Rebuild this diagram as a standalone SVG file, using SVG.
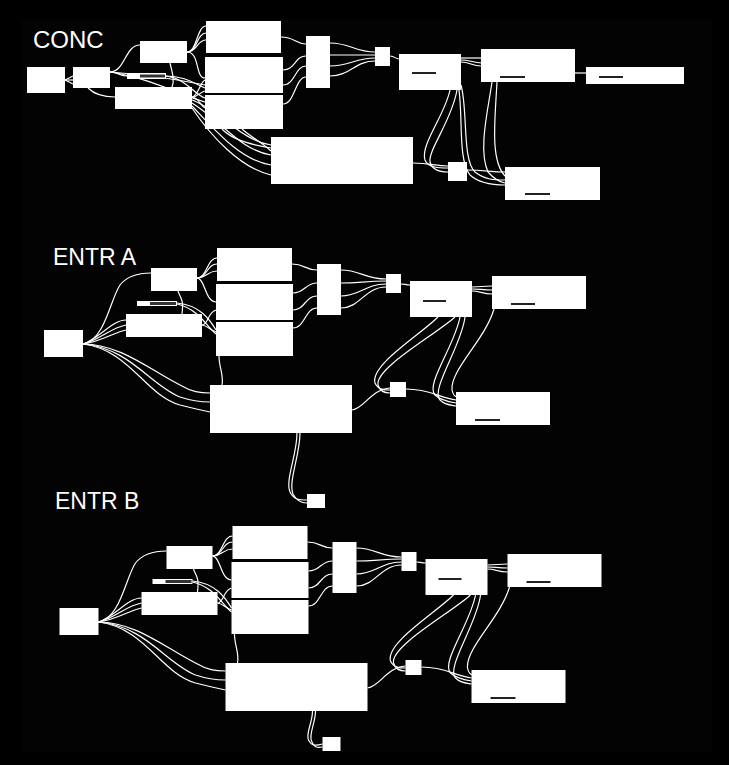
<svg xmlns="http://www.w3.org/2000/svg" width="729" height="765" viewBox="0 0 729 765">
<defs>
<style>
.bg{fill:#000}
.panel{fill:#030303}
.n{fill:#fff}
.mark{fill:#222}
.bar{fill:#fff}
.barin{fill:#333}
.c path{fill:none;stroke:#fff;stroke-width:1.2}
.t{font-family:"Liberation Sans",Arial,sans-serif;fill:#fff;font-weight:300}
</style>
</defs>
<rect class="bg" x="0" y="0" width="729" height="765"/>
<rect class="panel" x="22" y="20" width="690" height="732"/>

<text class="t" x="33" y="48" font-size="24">CONC</text>
<text class="t" x="53" y="265" font-size="23">ENTR A</text>
<text class="t" x="55" y="509" font-size="23">ENTR B</text>

<!-- CONC connectors -->
<g id="conc-connectors" class="c">
<path d="M65,80 L73,76"/><path d="M65,80 L73,84"/><path d="M65,80 L73,80"/>
<path d="M110,72 C125,72 125,45 140,45"/>
<path d="M110,72 C118,72 120,76 127,76"/>
<path d="M110,72 C150,75 180,80 205,85"/>
<path d="M110,72 C150,78 180,95 205,102"/>
<path d="M88,88 C95,95 105,97 115,97"/>
<path d="M187,52 C197,52 197,26 206,26"/>
<path d="M187,52 C197,52 197,33 206,33"/>
<path d="M187,52 C197,52 197,40 206,40"/>
<path d="M187,52 C200,52 195,78 205,78"/>
<path d="M170,63 C172,72 175,80 172,87"/>
<path d="M166,76 C185,76 195,84 205,88"/>
<path d="M166,76 C185,78 195,95 205,98"/>
<path d="M192,97 C198,97 200,82 205,80"/>
<path d="M192,97 C198,97 200,92 205,91"/>
<path d="M192,97 C198,97 200,105 205,108"/>
<path d="M192,100 C220,110 240,140 271,145"/>
<path d="M192,103 C220,120 240,150 271,155"/>
<path d="M192,106 C215,130 240,160 271,165"/>
<path d="M192,108 C210,135 240,168 271,175"/>
<path d="M222,129 C232,140 252,145 271,148"/>
<path d="M242,129 C252,138 262,142 271,151"/>
<path d="M281,37 C295,37 295,44 306,44"/>
<path d="M283,70 C295,70 295,56 306,56"/>
<path d="M283,85 C295,85 295,66 306,66"/>
<path d="M283,104 C295,104 295,77 306,77"/>
<path d="M330,43 C350,43 355,52 375,52"/>
<path d="M330,55 C350,55 355,55 375,55"/>
<path d="M330,66 C350,66 355,58 375,58"/>
<path d="M330,76 C350,76 355,61 375,61"/>
<path d="M390,56 C395,56 395,59 399,59"/>
<path d="M461,58 C470,58 472,58 481,58"/>
<path d="M461,60 C470,60 470,62 481,63"/>
<path d="M461,62 C470,62 472,66 481,66"/>
<path d="M575,73 L586,73"/>
<path d="M450,90 C445,115 420,145 425,160 C428,168 440,168 448,168"/>
<path d="M457,90 C452,120 428,150 430,162 C432,170 440,172 448,172"/>
<path d="M413,163 C430,163 435,166 448,166"/>
<path d="M461,85 C468,110 462,160 475,172 C485,180 495,180 505,180"/>
<path d="M459,90 C463,120 458,160 470,175 C480,184 495,185 505,185"/>
<path d="M492,82 C488,110 478,150 488,172 C495,180 500,182 505,183"/>
<path d="M497,82 C495,120 490,160 505,176"/>
<path d="M467,170 C485,170 490,172 505,172"/>
</g>

<!-- CONC nodes -->
<g id="conc-a"><rect class="n" x="27" y="67" width="38" height="26"/></g>
<g id="conc-b"><rect class="n" x="73" y="67" width="37" height="21"/></g>
<g id="conc-c"><rect class="n" x="140" y="41" width="47" height="22"/></g>
<g id="conc-slim"><rect class="bar" x="127" y="73" width="39" height="6"/><rect class="barin" x="140" y="74.5" width="25" height="3"/></g>
<g id="conc-d"><rect class="n" x="115" y="87" width="77" height="22"/></g>
<g id="conc-e1"><rect class="n" x="206" y="21" width="75" height="32"/></g>
<g id="conc-e2"><rect class="n" x="205" y="57" width="78" height="36"/></g>
<g id="conc-e3"><rect class="n" x="205" y="95" width="78" height="34"/></g>
<g id="conc-f"><rect class="n" x="271" y="137" width="142" height="47"/></g>
<g id="conc-g"><rect class="n" x="306" y="36" width="24" height="52"/></g>
<g id="conc-h"><rect class="n" x="375" y="47" width="15" height="19"/></g>
<g id="conc-i"><rect class="n" x="399" y="54" width="62" height="36"/><rect class="mark" x="412" y="72" width="24" height="2"/></g>
<g id="conc-j"><rect class="n" x="481" y="49" width="94" height="33"/><rect class="mark" x="500" y="76" width="25" height="2"/></g>
<g id="conc-k"><rect class="n" x="586" y="67" width="98" height="17"/><rect class="mark" x="599" y="76" width="24" height="2"/></g>
<g id="conc-l"><rect class="n" x="448" y="162" width="19" height="19"/></g>
<g id="conc-m"><rect class="n" x="505" y="167" width="95" height="33"/><rect class="mark" x="525" y="193" width="25" height="2"/></g>

<!-- ENTR A connectors -->
<g id="entra-connectors" class="c">
<path d="M83,344 C105,340 110,300 120,285 C128,275 140,273 151,273"/>
<path d="M83,344 C100,340 110,328 126,325"/>
<path d="M83,344 C100,338 112,320 126,320"/>
<path d="M83,344 C100,342 115,332 126,330"/>
<path d="M83,344 C120,344 150,370 180,385 C192,392 200,393 210,393"/>
<path d="M83,344 C130,348 150,385 180,397 C192,401 200,402 210,402"/>
<path d="M83,344 C130,350 145,395 180,405 C192,408 200,410 210,412"/>
<path d="M178,291 C180,298 184,298 182,314"/>
<path d="M177,303 C200,305 210,320 216,330"/>
<path d="M177,304 C200,310 205,325 216,334"/>
<path d="M197,278 C207,278 207,258 217,258"/>
<path d="M197,278 C207,278 207,264 217,264"/>
<path d="M197,278 C207,278 207,271 217,271"/>
<path d="M197,278 C205,278 205,302 216,302"/>
<path d="M202,325 C208,325 208,312 216,310"/>
<path d="M202,325 C208,326 210,330 216,332"/>
<path d="M219,356 C219,368 224,375 222,385"/>
<path d="M292,264 C305,264 305,270 317,270"/>
<path d="M293,293 C305,293 305,283 317,283"/>
<path d="M293,310 C305,310 305,296 317,296"/>
<path d="M293,328 C305,328 305,308 317,308"/>
<path d="M341,270 C360,270 365,279 386,279"/>
<path d="M341,283 C360,283 365,281 386,281"/>
<path d="M341,296 C360,296 365,284 386,284"/>
<path d="M341,308 C360,308 365,287 386,287"/>
<path d="M401,284 C405,284 405,285 410,285"/>
<path d="M472,287 L492,286"/>
<path d="M472,289 C480,289 482,290 492,290"/>
<path d="M472,291 C480,291 482,294 492,294"/>
<path d="M438,317 C420,335 370,365 375,383 C378,390 385,390 390,390"/>
<path d="M455,317 C435,335 375,368 378,385 C380,392 385,393 390,393"/>
<path d="M352,410 C365,408 370,390 390,388"/>
<path d="M406,389 C430,389 440,398 456,400"/>
<path d="M460,317 C455,345 425,385 435,395 C440,400 450,402 456,403"/>
<path d="M465,317 C462,345 430,390 440,400 C445,405 450,405 456,406"/>
<path d="M494,309 C485,340 450,370 452,390 C453,395 455,397 458,397"/>
<path d="M297,433 C297,455 285,480 290,492 C294,500 300,500 307,500"/>
<path d="M300,433 C300,455 288,482 293,494 C297,502 302,503 307,503"/>
</g>

<!-- ENTR A nodes -->
<g id="entra-a"><rect class="n" x="44" y="330" width="39" height="27"/></g>
<g id="entra-c"><rect class="n" x="151" y="268" width="46" height="23"/></g>
<g id="entra-slim"><rect class="bar" x="137" y="301" width="40" height="5"/><rect class="barin" x="150" y="302" width="26" height="3"/></g>
<g id="entra-d"><rect class="n" x="126" y="314" width="76" height="23"/></g>
<g id="entra-e1"><rect class="n" x="217" y="248" width="75" height="33"/></g>
<g id="entra-e2"><rect class="n" x="216" y="284" width="77" height="36"/></g>
<g id="entra-e3"><rect class="n" x="216" y="322" width="77" height="34"/></g>
<g id="entra-g"><rect class="n" x="317" y="264" width="24" height="51"/></g>
<g id="entra-f"><rect class="n" x="210" y="385" width="142" height="48"/></g>
<g id="entra-n"><rect class="n" x="307" y="494" width="18" height="14"/></g>
<g id="entra-h"><rect class="n" x="386" y="274" width="15" height="19"/></g>
<g id="entra-i"><rect class="n" x="410" y="281" width="62" height="36"/><rect class="mark" x="423" y="300" width="23" height="2"/></g>
<g id="entra-j"><rect class="n" x="492" y="276" width="94" height="33"/><rect class="mark" x="511" y="303" width="24" height="2"/></g>
<g id="entra-l"><rect class="n" x="390" y="382" width="16" height="15"/></g>
<g id="entra-m"><rect class="n" x="456" y="392" width="94" height="33"/><rect class="mark" x="475" y="419" width="25" height="2"/></g>

<!-- ENTR B connectors -->
<g id="entrb-connectors" class="c" transform="translate(15.5,278)">
<path d="M83,344 C105,340 110,300 120,285 C128,275 140,273 151,273"/>
<path d="M83,344 C100,340 110,328 126,325"/>
<path d="M83,344 C100,338 112,320 126,320"/>
<path d="M83,344 C100,342 115,332 126,330"/>
<path d="M83,344 C120,344 150,370 180,385 C192,392 200,393 210,393"/>
<path d="M83,344 C130,348 150,385 180,397 C192,401 200,402 210,402"/>
<path d="M83,344 C130,350 145,395 180,405 C192,408 200,410 210,412"/>
<path d="M178,291 C180,298 184,298 182,314"/>
<path d="M177,303 C200,305 210,320 216,330"/>
<path d="M177,304 C200,310 205,325 216,334"/>
<path d="M197,278 C207,278 207,258 217,258"/>
<path d="M197,278 C207,278 207,264 217,264"/>
<path d="M197,278 C207,278 207,271 217,271"/>
<path d="M197,278 C205,278 205,302 216,302"/>
<path d="M202,325 C208,325 208,312 216,310"/>
<path d="M202,325 C208,326 210,330 216,332"/>
<path d="M219,356 C219,368 224,375 222,385"/>
<path d="M292,264 C305,264 305,270 317,270"/>
<path d="M293,293 C305,293 305,283 317,283"/>
<path d="M293,310 C305,310 305,296 317,296"/>
<path d="M293,328 C305,328 305,308 317,308"/>
<path d="M341,270 C360,270 365,279 386,279"/>
<path d="M341,283 C360,283 365,281 386,281"/>
<path d="M341,296 C360,296 365,284 386,284"/>
<path d="M341,308 C360,308 365,287 386,287"/>
<path d="M401,284 C405,284 405,285 410,285"/>
<path d="M472,287 L492,286"/>
<path d="M472,289 C480,289 482,290 492,290"/>
<path d="M472,291 C480,291 482,294 492,294"/>
<path d="M438,317 C420,335 370,365 375,383 C378,390 385,390 390,390"/>
<path d="M455,317 C435,335 375,368 378,385 C380,392 385,393 390,393"/>
<path d="M352,410 C365,408 370,390 390,388"/>
<path d="M406,389 C430,389 440,398 456,400"/>
<path d="M460,317 C455,345 425,385 435,395 C440,400 450,402 456,403"/>
<path d="M465,317 C462,345 430,390 440,400 C445,405 450,405 456,406"/>
<path d="M494,309 C485,340 450,370 452,390 C453,395 455,397 458,397"/>
<path d="M297,433 C297,445 290,455 293,462 C296,468 300,468 307,466"/>
<path d="M300,433 C300,445 293,456 296,463 C299,470 302,470 307,469"/>
</g>

<!-- ENTR B nodes -->
<g transform="translate(15.5,278)">
<g id="entrb-a"><rect class="n" x="44" y="330" width="39" height="27"/></g>
<g id="entrb-c"><rect class="n" x="151" y="268" width="46" height="23"/></g>
<g id="entrb-slim"><rect class="bar" x="137" y="301" width="40" height="5"/><rect class="barin" x="150" y="302" width="26" height="3"/></g>
<g id="entrb-d"><rect class="n" x="126" y="314" width="76" height="23"/></g>
<g id="entrb-e1"><rect class="n" x="217" y="248" width="75" height="33"/></g>
<g id="entrb-e2"><rect class="n" x="216" y="284" width="77" height="36"/></g>
<g id="entrb-e3"><rect class="n" x="216" y="322" width="77" height="34"/></g>
<g id="entrb-g"><rect class="n" x="317" y="264" width="24" height="51"/></g>
<g id="entrb-f"><rect class="n" x="210" y="385" width="142" height="48"/></g>
<g id="entrb-n"><rect class="n" x="307" y="459" width="18" height="14"/></g>
<g id="entrb-h"><rect class="n" x="386" y="274" width="15" height="19"/></g>
<g id="entrb-i"><rect class="n" x="410" y="281" width="62" height="36"/><rect class="mark" x="423" y="300" width="23" height="2"/></g>
<g id="entrb-j"><rect class="n" x="492" y="276" width="94" height="33"/><rect class="mark" x="511" y="303" width="24" height="2"/></g>
<g id="entrb-l"><rect class="n" x="390" y="382" width="16" height="15"/></g>
<g id="entrb-m"><rect class="n" x="456" y="392" width="94" height="33"/><rect class="mark" x="475" y="419" width="25" height="2"/></g>
</g>
</svg>
